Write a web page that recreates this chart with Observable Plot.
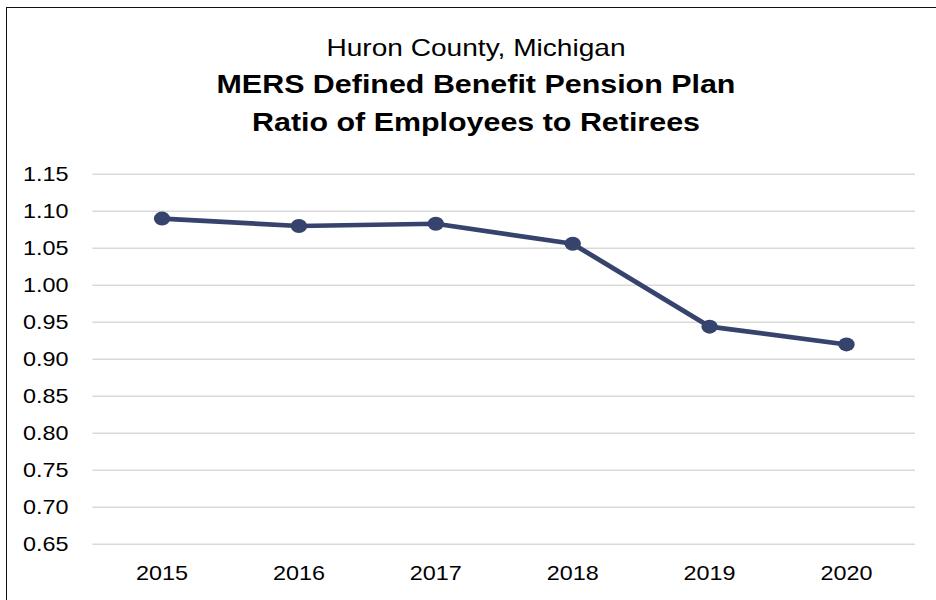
<!DOCTYPE html>
<html>
<head>
<meta charset="utf-8">
<script src="https://cdn.jsdelivr.net/npm/d3@7"></script>
<script src="https://cdn.jsdelivr.net/npm/@observablehq/plot@0.6"></script>
<style>
  html, body { margin: 0; padding: 0; background: #fff; overflow: hidden; }
  #page { position: relative; width: 936px; height: 600px; overflow: hidden; background: #fff; }
  #frame { position: absolute; left: 6px; top: 7px; width: 1200px; height: 1200px;
           border-left: 1.5px solid #111; border-top: 1.5px solid #111; pointer-events: none; }
  #titles { position: relative; height: 150px; }
  .tl { position: absolute; left: 0; width: 952px; text-align: center; white-space: nowrap;
        font-family: "Liberation Sans", Arial, sans-serif; color: #000; line-height: 37.7px;
        transform: scaleX(1.17); transform-origin: 476px 50%; }
  #t1 { top: 28.5px; font-size: 24px; font-weight: normal; }
  #t2 { top: 66.2px; font-size: 26px; font-weight: bold; }
  #t3 { top: 103.9px; font-size: 26px; font-weight: bold; }
  #chart svg { display: block; }
</style>
</head>
<body>
<div id="page">
  <div id="titles">
    <div class="tl" id="t1"></div>
    <div class="tl" id="t2"></div>
    <div class="tl" id="t3"></div>
  </div>
  <div id="chart"></div>
  <div id="frame"></div>
</div>
<script>
const titleLines = ["Huron County, Michigan", "MERS Defined Benefit Pension Plan", "Ratio of Employees to Retirees"];
const years = ["2015", "2016", "2017", "2018", "2019", "2020"];
const ratios = [1.09, 1.08, 1.083, 1.056, 0.944, 0.92];
const yTicks = [0.65, 0.70, 0.75, 0.80, 0.85, 0.90, 0.95, 1.00, 1.05, 1.10, 1.15];

document.getElementById("t1").textContent = titleLines[0];
document.getElementById("t2").textContent = titleLines[1];
document.getElementById("t3").textContent = titleLines[2];

const data = years.map((year, i) => ({year, ratio: ratios[i]}));
const lineColor = "#36436C";

const chart = Plot.plot({
  width: 800,
  height: 450,
  marginTop: 23.7,
  marginBottom: 56.3,
  marginLeft: 79,
  marginRight: 18,
  style: {fontFamily: "'Liberation Sans', Arial, sans-serif", fontSize: "20px", color: "#000", background: "#fff", overflow: "visible"},
  x: {type: "point", domain: years, padding: 0.5, label: null, tickSize: 0, tickPadding: 22},
  y: {domain: [0.65, 1.15], ticks: yTicks, tickFormat: d3.format(".2f"), label: null, tickSize: 0, tickPadding: 21},
  marks: [
    Plot.ruleY(yTicks, {stroke: "#d9d9d9", strokeWidth: 1.6}),
    Plot.line(data, {x: "year", y: "ratio", stroke: lineColor, strokeWidth: 4.6}),
    Plot.dot(data, {x: "year", y: "ratio", r: 7, fill: lineColor, stroke: "none"})
  ]
});

chart.setAttribute("width", 936);
chart.setAttribute("height", 450);
chart.setAttribute("preserveAspectRatio", "none");
chart.style.width = "936px";
chart.style.height = "450px";
chart.style.maxWidth = "none";
document.getElementById("chart").appendChild(chart);
</script>
</body>
</html>
